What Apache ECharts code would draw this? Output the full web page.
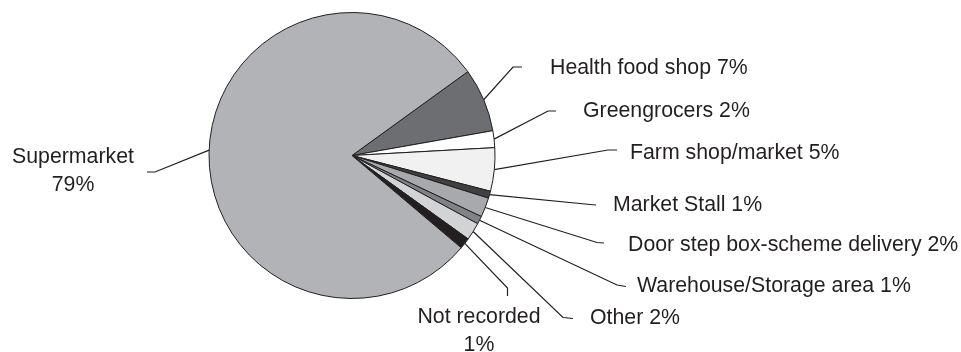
<!DOCTYPE html>
<html>
<head>
<meta charset="utf-8">
<script src="https://cdn.jsdelivr.net/npm/echarts@6/dist/echarts.min.js"></script>
<style>html,body{margin:0;padding:0;background:#fff}#c{width:961px;height:352px}</style>
</head>
<body>
<div id="c"></div>
<script>
// Data (clockwise from the Health food shop slice)
const categories = ["Health food shop", "Greengrocers", "Farm shop/market", "Market Stall", "Door step box-scheme delivery", "Warehouse/Storage area", "Other", "Not recorded", "Supermarket"];
const values = [7.2, 1.9, 4.9, 0.8, 2.2, 0.9, 2.0, 1.25, 78.9];
const labelTexts = ["Health food shop 7%", "Greengrocers 2%", "Farm shop/market 5%", "Market Stall 1%", "Door step box-scheme delivery 2%", "Warehouse/Storage area 1%", "Other 2%", "Not recorded\n1%", "Supermarket\n79%"];

// Styling / layout (not data)
const colors = ["#6d6e71", "#ffffff", "#f1f1f2", "#404041", "#a7a9ac", "#808285", "#d1d3d4", "#231f20", "#b1b3b6"];
const labelPos = [
  {x: 550, y: 68, align: 'left', p1: [513, 67], p2: [522, 67]},
  {x: 583, y: 111, align: 'left', p1: [548, 111], p2: [556, 111]},
  {x: 630, y: 153, align: 'left', p1: [608, 150], p2: [617, 150]},
  {x: 613, y: 205, align: 'left', p1: [590, 204.5], p2: [596, 205]},
  {x: 628, y: 245, align: 'left', p1: [597, 242.5], p2: [604, 243]},
  {x: 637, y: 286, align: 'left', p1: [617, 285], p2: [626, 286.5]},
  {x: 590, y: 318, align: 'left', p1: [563, 317.5], p2: [573, 318.5]},
  {x: 479, y: 331, align: 'center', p1: [507.5, 288], p2: [507.5, 296]},
  {x: 73, y: 171, align: 'center', p1: [155, 172], p2: [147, 172]}
];

const chart = echarts.init(document.getElementById('c'), null, {renderer: 'canvas'});
chart.setOption({
  animation: false,
  backgroundColor: '#ffffff',
  series: [{
    type: 'pie',
    center: [352, 155.5],
    radius: [0, 143],
    startAngle: 35.9,
    clockwise: true,
    avoidLabelOverlap: false,
    minAngle: 0,
    data: categories.map((c, i) => ({
      name: c,
      value: values[i],
      itemStyle: {color: colors[i]}
    })),
    itemStyle: {borderColor: '#231f20', borderWidth: 1},
    label: {
      show: true,
      formatter: p => labelTexts[p.dataIndex],
      fontFamily: 'Liberation Sans, Arial, sans-serif',
      fontSize: 21.3,
      lineHeight: 28,
      color: '#231f20'
    },
    labelLine: {
      show: true,
      lineStyle: {color: '#231f20', width: 1.2}
    },
    emphasis: {disabled: true},
    labelLayout: function (params) {
      const lp = labelPos[params.dataIndex];
      const start = params.labelLinePoints ? params.labelLinePoints[0] : lp.p1;
      return {
        x: lp.x,
        y: lp.y,
        align: lp.align,
        verticalAlign: 'middle',
        labelLinePoints: [start, lp.p1, lp.p2]
      };
    }
  }]
});
</script>
</body>
</html>
